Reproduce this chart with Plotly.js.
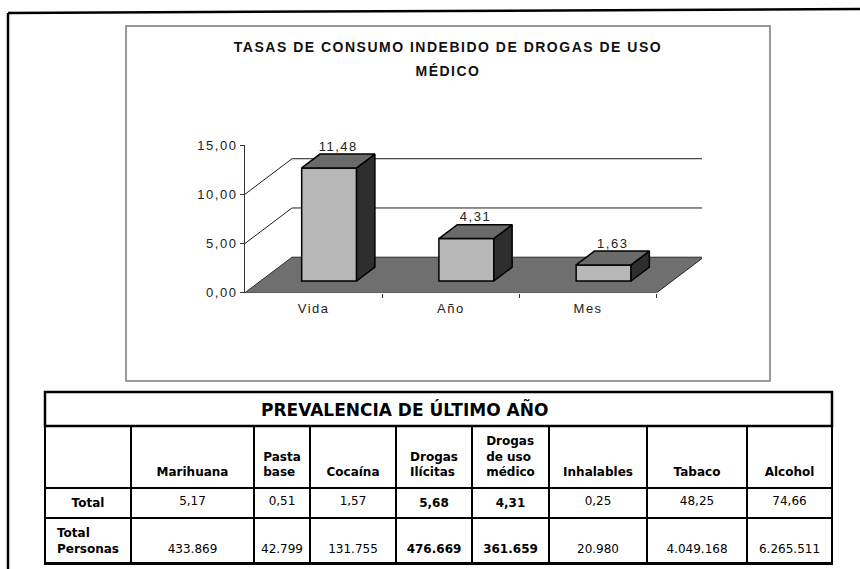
<!DOCTYPE html>
<html>
<head>
<meta charset="utf-8">
<script src="https://cdn.plot.ly/plotly-3.0.1.min.js"></script>
<style>
html,body{margin:0;padding:0;background:#fff;}
#chart{width:860px;height:569px;}
text.gtitle{letter-spacing:1.5px;}
g.xtick text, g.ytick text, g.textpoint text{letter-spacing:1.5px;}
g.annotation[data-index="0"] text{letter-spacing:1.5px;}
</style>
</head>
<body>
<div id="chart"></div>
<script>
// ---------------- DATA ----------------
const chartTitle = 'TASAS DE CONSUMO INDEBIDO DE DROGAS DE USO';
const chartTitle2 = 'MÉDICO';
const categories = ['Vida', 'Año', 'Mes'];
const rates = [11.48, 4.31, 1.63];
const yTicks = [0, 5, 10, 15];
const gridLevels = [5, 10];

const tableTitle = 'PREVALENCIA DE ÚLTIMO AÑO';
const drugLabels = ['Marihuana', 'Pasta<br>base', 'Cocaína', 'Drogas<br>Ilícitas',
                    'Drogas<br>de uso<br>médico', 'Inhalables', 'Tabaco', 'Alcohol'];
const rowLabels = ['Total', 'Total<br>Personas'];
const totalRate = [5.17, 0.51, 1.57, 5.68, 4.31, 0.25, 48.25, 74.66];
const totalPersons = [433869, 42799, 131755, 476669, 361659, 20980, 4049168, 6265511];
const boldColumns = [3, 4];

// ---------------- GEOMETRY / STYLE ----------------
const W = 860, H = 569;
const px = v => v / W;
const py = v => 1 - v / H;
const X0 = 245, XF = 656.7, X1 = 702, Y0 = 292.7, Y1 = 145;
const catPx = (XF - X0) / 3;
const valPx = (Y0 - Y1) / 15;
const xRange = [-0.5, -0.5 + (X1 - X0) / catPx];
const Dx = 47 / catPx, Dy = 35.5 / valPx;     // floor depth in data units
const fF = 0.33, fB = 0.72;                     // bar front / back depth fraction
const barW = 0.4;
const chartFont = 'Liberation Sans, Arial, sans-serif';
const tableFont = 'DejaVu Sans, Verdana, sans-serif';

const fmtDec = v => v.toFixed(2).replace('.', ',');
const fmtInt = v => String(v).replace(/\B(?=(\d{3})+(?!\d))/g, '.');

const traces = [];

// floor (base subplot)
traces.push({
  type: 'scatter', mode: 'lines', xaxis: 'x', yaxis: 'y', hoverinfo: 'skip', showlegend: false,
  x: [-0.5, 2.5, 2.5 + Dx, -0.5 + Dx, -0.5],
  y: [0, 0, Dy, Dy, 0],
  fill: 'toself', fillcolor: '#6f6f6f', line: {color: '#2a2a2a', width: 1}
});
// back gridlines with diagonal connectors
gridLevels.forEach(v => {
  traces.push({
    type: 'scatter', mode: 'lines', xaxis: 'x', yaxis: 'y', hoverinfo: 'skip', showlegend: false,
    x: [-0.5, -0.5 + Dx, 2.5 + Dx],
    y: [v, v + Dy, v + Dy],
    line: {color: '#1e1e1e', width: 1}
  });
});

// bar front faces (overlay subplot so they sit above the floor)
const xs = categories.map((c, i) => i);
traces.push({
  type: 'bar', xaxis: 'x2', yaxis: 'y2', showlegend: false, hoverinfo: 'skip',
  x: xs, y: rates, base: fF * Dy,
  offset: fF * Dx - barW / 2, width: barW,
  marker: {color: '#b7b7b7', line: {color: '#000', width: 1.5}}
});
const ddx = (fB - fF) * Dx, ddy = (fB - fF) * Dy;
rates.forEach((v, i) => {
  const xl = i + fF * Dx - barW / 2, xr = xl + barW;
  const yb = fF * Dy, yt = v + fF * Dy;
  traces.push({
    type: 'scatter', mode: 'lines', xaxis: 'x2', yaxis: 'y2', hoverinfo: 'skip', showlegend: false,
    x: [xr, xr, xr + ddx, xr + ddx, xr], y: [yb, yt, yt + ddy, yb + ddy, yb],
    fill: 'toself', fillcolor: '#2e2e2e', line: {color: '#000', width: 1.5}
  });
  traces.push({
    type: 'scatter', mode: 'lines', xaxis: 'x2', yaxis: 'y2', hoverinfo: 'skip', showlegend: false,
    x: [xl, xr, xr + ddx, xl + ddx, xl], y: [yt, yt, yt + ddy, yt + ddy, yt],
    fill: 'toself', fillcolor: '#6a6a6a', line: {color: '#000', width: 1.5}
  });
});
// value labels
traces.push({
  type: 'scatter', mode: 'text', xaxis: 'x2', yaxis: 'y2', hoverinfo: 'skip', showlegend: false,
  x: xs.map(i => i + fF * Dx + ddx / 2),
  y: rates.map(v => v + fB * Dy),
  text: rates.map(fmtDec), textposition: 'top center', cliponaxis: false,
  textfont: {family: chartFont, size: 13, color: '#222'}
});

// ---------------- TABLE ----------------
const colWidths = [86, 123, 56, 86, 76, 77, 98, 100, 85];
const T = {x0: 45, x1: 832, top: 392, titleB: 426, bot: 566};
const tLine = {color: '#000', width: 2.5};
const nb = '\u00a0';
const boldLines = s => s.split('<br>').map(p => '<b>' + p + '</b>').join('<br>');
const padLines = (s, n) => {
  const k = s.split('<br>').length;
  return Array(n - k).fill(nb).concat([s]).join('<br>');
};
const maybeBold = (s, j) => boldColumns.includes(j) ? boldLines(s) : s;

const headVals = [nb].concat(drugLabels.map(l => padLines(boldLines(l), 3)));
const cellVals = [[boldLines(rowLabels[0]), boldLines(rowLabels[1])]].concat(
  totalRate.map((v, j) => [maybeBold(fmtDec(v), j), padLines(maybeBold(fmtInt(totalPersons[j]), j), 2)])
);
traces.push({
  type: 'table',
  domain: {x: [px(T.x0), px(T.x1)], y: [py(T.bot), py(T.titleB)]},
  columnwidth: colWidths,
  header: {values: headVals, height: 62, line: tLine, fill: {color: '#fff'}, align: 'center',
           font: {family: tableFont, size: 12, color: '#000'}},
  cells: {values: cellVals, height: 24, line: tLine, fill: {color: '#fff'}, align: 'center',
          font: {family: tableFont, size: 12, color: '#000'}}
});

// ---------------- LAYOUT ----------------
const layout = {
  width: W, height: H, autosize: false,
  margin: {l: 0, r: 0, t: 0, b: 0},
  paper_bgcolor: '#fff', plot_bgcolor: 'rgba(0,0,0,0)',
  separators: ',.',
  showlegend: false,
  title: {
    text: '<b>' + chartTitle + '</b>', x: px(448), xanchor: 'center', y: py(47), yanchor: 'middle',
    font: {family: chartFont, size: 14, color: '#111'}
  },
  xaxis: {
    domain: [px(X0), px(X1)], range: xRange, fixedrange: true,
    tickvals: xs, ticktext: categories, ticks: '', ticklabelstandoff: 6,
    showline: false, showgrid: false, zeroline: false,
    tickfont: {family: chartFont, size: 13, color: '#222'}
  },
  yaxis: {
    domain: [py(Y0), py(Y1)], range: [0, 15], fixedrange: true,
    tickvals: yTicks, tickformat: '.2f', ticks: 'outside', ticklen: 4, tickcolor: '#333',
    showline: true, linecolor: '#333', linewidth: 1, showgrid: false, zeroline: false,
    tickfont: {family: chartFont, size: 13, color: '#222'}
  },
  xaxis2: {
    overlaying: 'x', anchor: 'y2', domain: [px(X0), px(X1)], range: xRange, fixedrange: true,
    tickvals: [0.5, 1.5, 2.5], ticks: 'outside', ticklen: 4, tickcolor: '#333',
    showticklabels: false, showgrid: false, zeroline: false, showline: false
  },
  yaxis2: {overlaying: 'y', anchor: 'x2', range: [0, 15], visible: false, fixedrange: true},
  annotations: [
    {text: '<b>' + chartTitle2 + '</b>', xref: 'paper', yref: 'paper', x: px(448), y: py(71),
     xanchor: 'center', yanchor: 'middle', showarrow: false,
     font: {family: chartFont, size: 14, color: '#111'}},
    {text: '<b>' + tableTitle + '</b>', xref: 'paper', yref: 'paper', x: px(404), y: py(409),
     xanchor: 'center', yanchor: 'middle', showarrow: false,
     font: {family: tableFont, size: 17, color: '#000'}}
  ],
  shapes: [
    {type: 'rect', xref: 'paper', yref: 'paper', x0: px(126), x1: px(770), y0: py(381), y1: py(26),
     line: {color: '#7a7a7a', width: 1.5}, layer: 'below'},
    {type: 'rect', xref: 'paper', yref: 'paper', x0: px(T.x0), x1: px(T.x1), y0: py(T.titleB), y1: py(T.top),
     line: {color: '#000', width: 2.5}},
    {type: 'line', xref: 'paper', yref: 'paper', x0: px(8), y0: py(13), x1: 1, y1: py(9),
     line: {color: '#000', width: 2.5}},
    {type: 'line', xref: 'paper', yref: 'paper', x0: px(8), y0: py(13), x1: px(8), y1: 0,
     line: {color: '#000', width: 2.5}}
  ]
};

Plotly.newPlot('chart', traces, layout, {staticPlot: true, displayModeBar: false});
</script>
</body>
</html>
